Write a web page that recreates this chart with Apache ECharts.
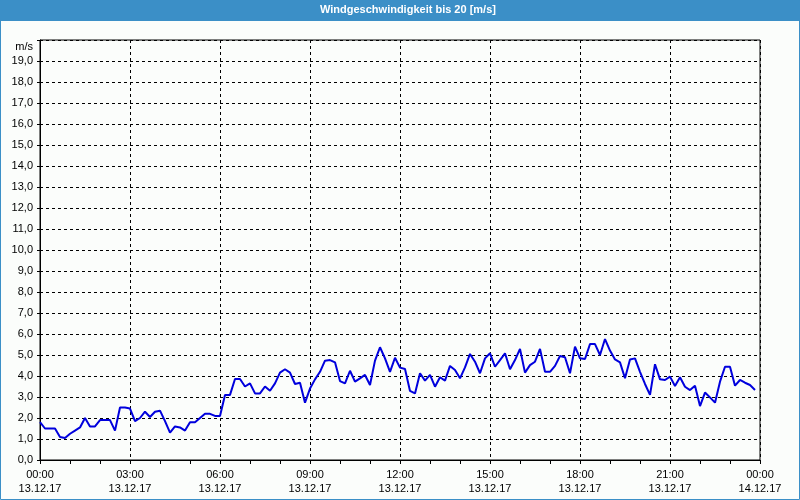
<!DOCTYPE html>
<html>
<head>
<meta charset="utf-8">
<script src="https://cdn.jsdelivr.net/npm/echarts@6/dist/echarts.min.js"></script>
<style>
html,body{margin:0;padding:0;background:#fbfdfb;}
#c{width:800px;height:500px;}
</style>
</head>
<body>
<div id="c"></div>
<script>
var chartTitle = 'Windgeschwindigkeit bis 20 [m/s]';
var unitLabel = 'm/s';
var stepMinutes = 10;
var windSpeed = [
  1.8,1.5,1.5,1.5,1.1,1.05,1.25,1.4,1.55,2.0,1.6,1.6,1.9,1.9,1.9,1.4,2.5,2.5,2.45,
  1.85,2.0,2.3,2.05,2.3,2.35,1.85,1.3,1.6,1.55,1.4,1.8,1.8,2.0,2.2,2.2,2.1,2.1,
  3.1,3.1,3.86,3.86,3.5,3.65,3.17,3.17,3.5,3.3,3.65,4.16,4.32,4.16,3.62,3.68,2.73,3.4,
  3.84,4.2,4.73,4.76,4.65,3.76,3.65,4.25,3.73,3.89,4.05,3.57,4.73,5.37,4.84,4.2,4.87,4.4,
  4.33,3.29,3.17,4.13,3.78,4.05,3.49,3.94,3.78,4.48,4.29,3.89,4.41,5.05,4.68,4.13,4.84,5.08,
  4.44,4.76,5.08,4.32,4.76,5.29,4.16,4.52,4.68,5.29,4.2,4.2,4.48,4.95,4.89,4.13,5.4,4.84,
  4.81,5.52,5.52,5.0,5.76,5.21,4.79,4.65,3.89,4.79,4.84,4.2,3.62,3.1,4.56,3.84,3.81,3.97,
  3.52,3.94,3.49,3.33,3.54,2.57,3.21,2.98,2.73,3.73,4.44,4.44,3.54,3.81,3.68,3.57,3.33
];
var timeLabels = ['00:00','03:00','06:00','09:00','12:00','15:00','18:00','21:00','00:00'];
var dateLabels = ['13.12.17','13.12.17','13.12.17','13.12.17','13.12.17','13.12.17','13.12.17','13.12.17','14.12.17'];

var FONT = 'Liberation Sans';
var seriesData = windSpeed.map(function (v, i) { return [i * stepMinutes, v]; });

var chart = echarts.init(document.getElementById('c'), null, {renderer: 'canvas'});
chart.setOption({
  backgroundColor: '#fbfdfb',
  animation: false,
  title: {
    text: chartTitle,
    left: 320, top: 4, padding: 0,
    textStyle: {color: '#ffffff', fontFamily: FONT, fontSize: 11, fontWeight: 'bold'}
  },
  graphic: [
    {type: 'rect', z: -10, silent: true, shape: {x: 0, y: 0, width: 800, height: 21}, style: {fill: '#3b8fc7'}},
    {type: 'rect', z: 100, silent: true, shape: {x: 0.5, y: 0.5, width: 799, height: 499}, style: {fill: 'none', stroke: '#3b8fc7', lineWidth: 1}}
  ],
  grid: {left: 40, right: 40, top: 40, bottom: 40, show: true, borderColor: '#000', borderWidth: 1, backgroundColor: 'transparent'},
  xAxis: {
    type: 'value', min: 0, max: 1440, interval: 180,
    axisLine: {show: true, lineStyle: {color: '#000', width: 1}},
    axisTick: {show: true, length: 4, lineStyle: {color: '#000'}},
    minorTick: {show: true, splitNumber: 3, length: 4, lineStyle: {color: '#000'}},
    splitLine: {show: true, lineStyle: {color: '#000', type: [3, 3], width: 1}},
    axisLabel: {
      margin: 8, color: '#000', fontFamily: FONT, fontSize: 11, lineHeight: 14,
      formatter: function (v) { var k = Math.round(v / 180); return timeLabels[k] + '\n' + dateLabels[k]; }
    }
  },
  yAxis: {
    type: 'value', min: 0, max: 20, interval: 1,
    axisLine: {show: true, lineStyle: {color: '#000', width: 1}},
    axisTick: {show: true, length: 5, lineStyle: {color: '#000', type: [3, 3]}},
    splitLine: {show: true, lineStyle: {color: '#000', type: [3, 3], width: 1}},
    axisLabel: {
      margin: 7, color: '#000', fontFamily: FONT, fontSize: 11,
      formatter: function (v) { return v === 20 ? '{u|' + unitLabel + '}' : v.toFixed(1).replace('.', ','); },
      rich: {u: {padding: [14, 0, 0, 0], fontFamily: FONT, fontSize: 11, color: '#000'}}
    }
  },
  series: [{
    type: 'line', data: seriesData, showSymbol: false, symbol: 'none',
    lineStyle: {color: '#0000dd', width: 2}, z: 5
  }]
});
</script>
</body>
</html>
